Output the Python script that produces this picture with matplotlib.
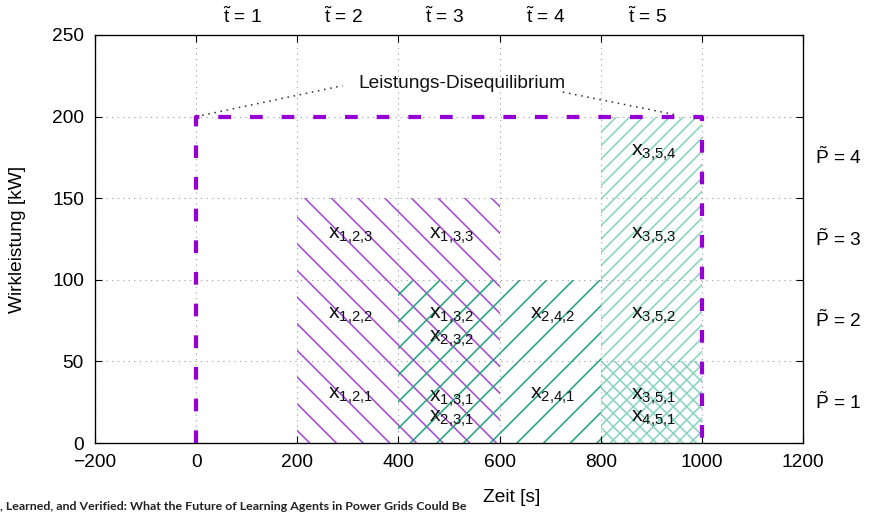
import matplotlib
matplotlib.use("Agg")
import matplotlib.pyplot as plt
import matplotlib.transforms as mtransforms

# --- Daten ---
# Schraffierte Bereiche: linker Rand, Breite, Höhe (Zeit [s], Wirkleistung [kW])
bereich_links = [200, 400, 800, 800]
bereich_breite = [400, 400, 200, 200]
bereich_hoehe = [150, 100, 200, 50]
bereich_muster = ['\\\\', '//', '////', '\\\\\\\\']
bereich_farbe = ['#a347dc', '#1fa37e', '#86d3bd', '#86d3bd']

# Leistungs-Disequilibrium (gestrichelte Linie)
dis_x = [0, 0, 1000, 1000]
dis_y = [0, 200, 200, 0]

# Beschriftungen der Zellen
zell_namen = ['1,2,3', '1,3,3', '1,2,2', '1,3,2', '2,3,2', '1,2,1', '1,3,1', '2,3,1',
              '2,4,2', '2,4,1', '3,5,4', '3,5,3', '3,5,2', '3,5,1', '4,5,1']
zell_x = [305, 505, 305, 505, 505, 305, 505, 505, 705, 705, 905, 905, 905, 905, 905]
zell_y = [127, 127, 78, 78, 64, 29, 27, 15, 78, 29, 178, 127, 78, 28, 15]

# Obere Zeitintervalle und rechte Leistungsstufen
t_pos = [100, 300, 500, 700, 900]
t_namen = ['1', '2', '3', '4', '5']
p_pos = [25, 75, 125, 175]
p_namen = ['1', '2', '3', '4']

x_ticks = [-200, 0, 200, 400, 600, 800, 1000, 1200]
y_ticks = [0, 50, 100, 150, 200, 250]

plt.rcParams['font.family'] = ['Liberation Sans', 'DejaVu Sans']
plt.rcParams['mathtext.fontset'] = 'custom'
plt.rcParams['mathtext.rm'] = 'Liberation Sans'
plt.rcParams['mathtext.it'] = 'Liberation Sans'
plt.rcParams['hatch.linewidth'] = 0.7

DPI = 160
fig = plt.figure(figsize=(870 / DPI, 512 / DPI), dpi=DPI)
ax = fig.add_axes([95 / 870, 69 / 512, 708 / 870, 408 / 512])
fs = 8.6

# Schraffuren
for l, b, h, m, c in zip(bereich_links, bereich_breite, bereich_hoehe, bereich_muster, bereich_farbe):
    ax.bar(l, h, width=b, bottom=0, align='edge', fill=False, hatch=m,
           edgecolor=c, linewidth=0)

# Gitter
ax.grid(True, color='#9a9a9a', linestyle=(0, (1, 4)), linewidth=0.5)

# Disequilibrium-Linie
ax.plot(dis_x, dis_y, color='#9400d3', linewidth=1.9, dashes=(3, 4.5), zorder=5)

# Annotation
ax.text(525, 220, 'Leistungs-Disequilibrium', ha='center', va='center',
        fontsize=fs, color='#111111')
ax.plot([0, 290], [200, 219], color='#333333', linewidth=0.7,
        linestyle=(0, (1, 3)))
ax.plot([725, 950], [215, 201], color='#333333', linewidth=0.7,
        linestyle=(0, (1, 3)))

# Zellbeschriftungen
for n, x, y in zip(zell_namen, zell_x, zell_y):
    sub = n.replace(',', '{,}')
    ax.text(x, y, r'$\mathregular{x_{%s}}$' % sub, ha='center', va='center',
            fontsize=fs + 1.0, color='#111111', zorder=6)

# obere Beschriftung
trans_top = mtransforms.blended_transform_factory(ax.transData, ax.transAxes)
for x, n in zip(t_pos, t_namen):
    ax.text(x - 8, 1.02, r'$\mathregular{\tilde{t}}$ = ' + n, transform=trans_top,
            ha='center', va='bottom', fontsize=fs)

# rechte Beschriftung
trans_r = mtransforms.blended_transform_factory(ax.transAxes, ax.transData)
for y, n in zip(p_pos, p_namen):
    ax.text(1.017, y, r'$\mathregular{\tilde{P}}$ = ' + n, transform=trans_r,
            ha='left', va='center', fontsize=fs)

ax.set_xlim(-200, 1200)
ax.set_ylim(0, 250)
ax.set_xticks(x_ticks)
ax.set_yticks(y_ticks)
ax.tick_params(direction='in', top=True, right=True, length=3, width=0.5,
               labelsize=fs, pad=5)
for s in ax.spines.values():
    s.set_linewidth(0.6)

ax.set_ylabel('Wirkleistung [kW]', fontsize=fs, va='center')
ax.yaxis.set_label_coords((18 - 95) / 708, 0.5)
ax.set_xlabel('Zeit [s]', fontsize=fs)
ax.xaxis.set_label_coords((512 - 95) / 708, (443 - 497) / 408)
ax.xaxis.label.set_va('center')

fig.text(0.0, 6 / 512, ', Learned, and Verified: What the Future of Learning Agents in Power Grids Could Be',
         fontsize=5.6, fontweight='bold', family=['Lato', 'DejaVu Sans'], color='#222222',
         ha='left', va='center')

fig.savefig('out.png', dpi=DPI)
